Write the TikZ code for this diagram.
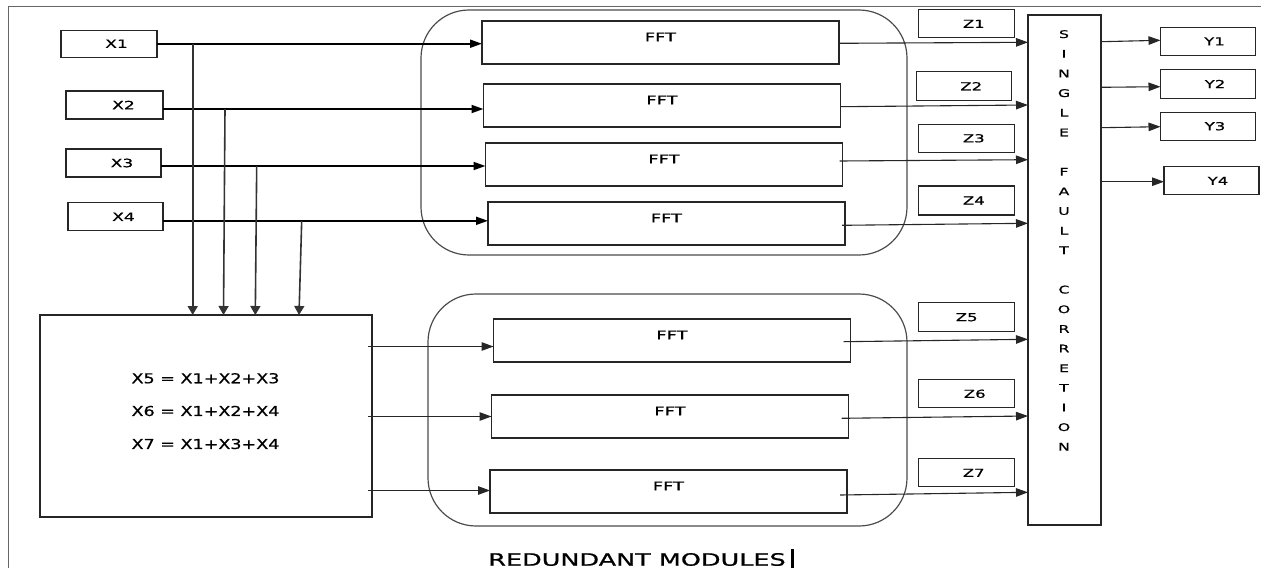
\documentclass[tikz,border=0pt]{standalone}
\usepackage{fontspec}
\setmainfont{DejaVu Sans}
\newfontfamily\lbl[FakeStretch=1.5,FakeBold=0.8]{DejaVu Sans}
\newfontfamily\eqf[FakeStretch=1.28,FakeBold=0.8]{DejaVu Sans}
\usetikzlibrary{arrows.meta}
\begin{document}
\begin{tikzpicture}[x=1pt,y=-1pt,
  blk/.style={draw=black!85, line width=1.3pt, inner sep=0pt, outer sep=0pt},
  xblk/.style={blk, minimum width=96pt, minimum height=28pt, font=\lbl\fontsize{11.4}{13}\selectfont},
  zblk/.style={blk, minimum width=96pt, minimum height=28pt, font=\lbl\fontsize{11}{13}\selectfont},
  fftblk/.style={blk, minimum width=357pt, minimum height=43pt},
  cont/.style={draw=black!70, line width=1.2pt, rounded corners=48pt, inner sep=0pt},
  txt/.style={inner sep=0pt, text=black},
  fftlbl/.style={txt, font=\lbl\fontsize{11.9}{13}\selectfont},
  xarr/.style={draw=black, line width=1.8pt, -{Triangle[length=12pt,width=8pt]}},
  darr/.style={draw=black!80, line width=1.6pt, -{Triangle[length=9pt,width=10pt]}},
  zarr/.style={draw=black!85, line width=1.1pt, -{Triangle[length=12pt,width=8.5pt]}},
  frame/.style={draw=black!60, line width=1.5pt}
]
\useasboundingbox (0,0) rectangle (1261,568);

% partial outer frame
\draw[frame] (8.3,568) -- (8.3,6.7) -- (1261,6.7);

% module groups
\node[cont, minimum width=486pt, minimum height=245pt] (grpA) at (664,132.5) {};
\node[cont, minimum width=479pt, minimum height=232pt] (grpB) at (667.5,410) {};

% inputs
\node[xblk, minimum width=96pt, minimum height=27pt] (x1) at (109,43.7) {\hspace*{15pt}X1};
\node[xblk, minimum width=97pt, minimum height=28pt] (x2) at (114.5,105) {\hspace*{18pt}X2};
\node[xblk, minimum width=95pt, minimum height=28pt] (x3) at (113.5,163) {\hspace*{17pt}X3};
\node[xblk, minimum width=95pt, minimum height=28pt] (x4) at (115.5,216.8) {\hspace*{16pt}X4};

% combiner
\node[blk, minimum width=332pt, minimum height=202pt] (comb) at (206,416) {};
\node[txt, font=\eqf\fontsize{13.7}{15}\selectfont] (e5) at (205.5,378.3) {X5 = X1+X2+X3};
\node[txt, font=\eqf\fontsize{13.7}{15}\selectfont] (e6) at (205.5,411) {X6 = X1+X2+X4};
\node[txt, font=\eqf\fontsize{13.7}{15}\selectfont] (e7) at (205.5,444) {X7 = X1+X3+X4};

% FFT modules
\node[fftblk] (f1) at (660.5,42.5) {};
\node[fftblk] (f2) at (662,105.5) {};
\node[fftblk] (f3) at (664,164.5) {};
\node[fftblk] (f4) at (666.5,223.5) {};
\node[fftblk] (f5) at (672,340.5) {};
\node[fftblk] (f6) at (670,416.5) {};
\node[fftblk] (f7) at (668.5,491.5) {};
\foreach \f in {f1,f2,f3,f4,f5,f6,f7}
  \node[fftlbl] (\f t) at ([yshift=-16pt]\f.north) {FFT};

% intermediate outputs
\node[zblk] (z1) at (966.3,23.8) {\hspace*{15pt}Z1};
\node[zblk, minimum width=95pt, minimum height=29pt] (z2) at (964.2,86.2) {\hspace*{14pt}Z2};
\node[zblk] (z3) at (966.3,138.3) {\hspace*{15pt}Z3};
\node[zblk, minimum height=29pt] (z4) at (966.3,200.5) {\hspace*{15pt}Z4};
\node[zblk, minimum height=29pt] (z5) at (966.7,317.2) {Z5};
\node[zblk] (z6) at (966.7,393.8) {\hspace*{16pt}Z6};
\node[zblk] (z7) at (966.7,472.8) {\hspace*{14pt}Z7};

% correction unit
\node[blk, minimum width=73pt, minimum height=510pt] (sfc) at (1064.5,270) {};
\node[txt, font=\lbl\fontsize{10.5}{19.65}\selectfont, align=center, anchor=north] (sfct) at (1064,30) {S\\I\\N\\G\\L\\E\\{}\\F\\A\\U\\L\\T\\{}\\C\\O\\R\\R\\E\\T\\I\\O\\N};

% outputs
\node[zblk, minimum width=95pt] (y1) at (1208,41.3) {\hspace*{13pt}Y1};
\node[zblk, minimum width=95pt, minimum height=29pt] (y2) at (1208,84) {\hspace*{14pt}Y2};
\node[zblk, minimum width=95pt] (y3) at (1208,126.2) {\hspace*{14pt}Y3};
\node[zblk, minimum width=95pt] (y4) at (1211.5,180.8) {\hspace*{13pt}Y4};

% input feeds
\coordinate (s1) at (x1.east);
\coordinate (s2) at ([yshift=-4pt]x2.east);
\coordinate (s3) at ([yshift=-3pt]x3.east);
\coordinate (s4) at ([yshift=-4pt]x4.east);
\draw[xarr] (s1) -- (s1 -| f1.west);
\draw[xarr] (s2) -- (s2 -| f2.west);
\draw[xarr] (s3) -- (s3 -| f3.west);
\draw[xarr] (s4) -- (s4 -| f4.west);

% taps into the combiner
\draw[darr] (s1 -| 192.7,0) -- (comb.north -| 192.7,0);
\draw[darr] (s2 -| 225,0) -- (comb.north -| 223.5,0);
\draw[darr] (s3 -| 256.7,0) -- (comb.north -| 255.3,0);
\draw[darr] (s4 -| 301.7,0) -- (comb.north -| 299,0);

% combiner to redundant FFTs
\coordinate (c5) at (comb.east |- 0,346.5);
\coordinate (c6) at (comb.east |- 0,416.5);
\coordinate (c7) at (comb.east |- 0,490.5);
\draw[zarr] ([xshift=-4pt]c5) -- (c5 -| f5.west);
\draw[zarr] ([xshift=-4pt]c6) -- (c6 -| f6.west);
\draw[zarr] ([xshift=-4pt]c7) -- (c7 -| f7.west);

% FFT outputs to correction unit
\coordinate (o1) at (f1.east |- 0,43.3);
\coordinate (o2) at (f2.east |- 0,106.7);
\coordinate (o3) at (f3.east |- 0,161);
\coordinate (o4) at (f4.east |- 0,225.3);
\coordinate (o5) at (f5.east |- 0,341.7);
\coordinate (o6) at (f6.east |- 0,418.3);
\coordinate (o7) at (f7.east |- 0,495);
\draw[zarr] (o1) -- (sfc.west |- 0,42.3);
\draw[zarr] (o2) -- (sfc.west |- 0,105);
\draw[zarr] ([xshift=-3pt]o3) -- (sfc.west |- 0,159.7);
\draw[zarr] ([xshift=-3pt]o4) -- (sfc.west |- 0,223.3);
\draw[zarr] ([xshift=-7pt]o5) -- (sfc.west |- 0,339.3);
\draw[zarr] ([xshift=-7pt]o6) -- (sfc.west |- 0,416);
\draw[zarr] ([xshift=-7pt]o7) -- (sfc.west |- 0,492.3);

% correction unit to outputs
\draw[zarr] (sfc.east |- 0,41.7) -- (y1.west |- 0,40.3);
\draw[zarr] (sfc.east |- 0,87.3) -- (y2.west |- 0,86.7);
\draw[zarr] (sfc.east |- 0,127.7) -- (y3.west |- 0,126.7);
\draw[zarr] (sfc.east |- 0,181.7) -- (y4.west |- 0,181.7);

% caption with text cursor
\node[txt, font=\lbl\fontsize{17}{20}\selectfont] (cap) at (637,559.5) {REDUNDANT MODULES};
\draw[line width=2.6pt] (792.7,549) -- (792.7,568);
\end{tikzpicture}
\end{document}
